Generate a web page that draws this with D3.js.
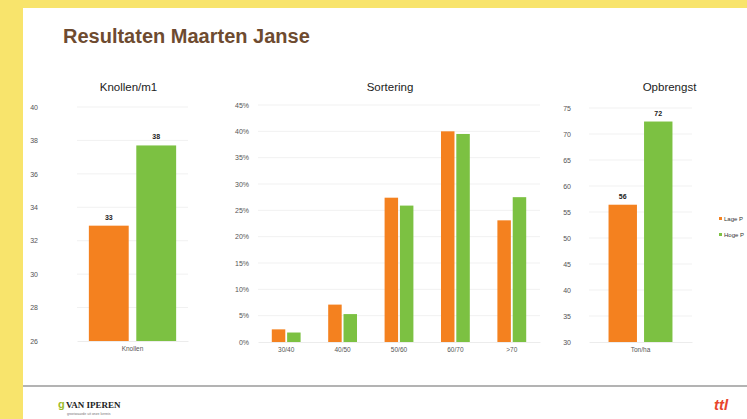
<!DOCTYPE html>
<html>
<head>
<meta charset="utf-8">
<script src="https://cdnjs.cloudflare.com/ajax/libs/d3/7.8.5/d3.min.js"></script>
<style>
  body { margin: 0; background: #fff; }
  svg { display: block; font-family: "Liberation Sans", Arial, sans-serif; }
</style>
</head>
<body>
<div id="chart"></div>
<script>
// series (legend is cut off at the slide edge in the source)
var seriesNames = ["Lage P", "Hoge P"];
var colors = ["#f4811f", "#7cc142"];

// Knollen/m1
var knolCats = ["Knollen"];
var knolLage = [32.9];
var knolHoge = [37.7];
var knolTicks = [26, 28, 30, 32, 34, 36, 38, 40];

// Sortering
var sortCats = ["30/40", "40/50", "50/60", "60/70", ">70"];
var sortLage = [0.024, 0.071, 0.274, 0.400, 0.231];
var sortHoge = [0.018, 0.053, 0.259, 0.395, 0.275];
var sortTicks = [0, 0.05, 0.10, 0.15, 0.20, 0.25, 0.30, 0.35, 0.40, 0.45];

// Opbrengst
var opbCats = ["Ton/ha"];
var opbLage = [56.4];
var opbHoge = [72.4];
var opbTicks = [30, 35, 40, 45, 50, 55, 60, 65, 70, 75];

var W = 747, H = 419;

var svg = d3.select("#chart").append("svg")
    .attr("width", W)
    .attr("height", H);

// yellow frame
svg.append("rect").attr("x", 0).attr("y", 0).attr("width", W).attr("height", H).attr("fill", "#f8e46c");
svg.append("rect").attr("x", 23).attr("y", 8).attr("width", W - 23).attr("height", H - 8).attr("fill", "#fff");

svg.append("text")
    .attr("x", 63).attr("y", 43)
    .attr("font-size", 20).attr("font-weight", "bold")
    .attr("fill", "#6e4b30")
    .text("Resultaten Maarten Janse");

function drawPanel(p){
    var g = svg.append("g");

    var y = d3.scaleLinear().domain(p.domain).range([p.bottom, p.top]);
    var x0 = d3.scaleBand().domain(p.cats).range([p.left, p.right]).paddingInner(0).paddingOuter(0);
    var x1 = d3.scaleBand().domain([0, 1]).range([0, x0.bandwidth()])
        .paddingInner(p.inner).paddingOuter(p.outer);

    // gridlines
    g.selectAll("line.grid")
        .data(p.ticks.slice(1))
        .enter().append("line")
        .attr("x1", p.left).attr("x2", p.right)
        .attr("y1", function(d){ return y(d); })
        .attr("y2", function(d){ return y(d); })
        .attr("stroke", "#f1f1f1").attr("stroke-width", 1);

    var yAxis = d3.axisLeft(y).tickValues(p.ticks).tickSize(0).tickFormat(p.tickFormat);
    var ya = g.append("g").attr("transform", "translate(" + p.axisX + ",0)").call(yAxis);
    ya.select(".domain").remove();
    ya.selectAll("text").attr("font-size", 7).attr("fill", "#555").attr("font-family", "Liberation Sans, Arial");

    var rows = p.cats.map(function(c, i){ return {cat: c, vals: [p.lage[i], p.hoge[i]]}; });

    var groups = g.selectAll("g.cat")
        .data(rows)
        .enter().append("g")
        .attr("transform", function(d){ return "translate(" + x0(d.cat) + ",0)"; });

    groups.selectAll("rect")
        .data(function(d){ return d.vals; })
        .enter().append("rect")
        .attr("x", function(d, i){ return x1(i); })
        .attr("width", x1.bandwidth())
        .attr("y", function(d){ return y(d); })
        .attr("height", function(d){ return p.bottom - y(d); })
        .attr("fill", function(d, i){ return colors[i]; });

    if (p.labels){
        groups.selectAll("text.val")
            .data(function(d){ return d.vals; })
            .enter().append("text")
            .attr("x", function(d, i){ return x1(i) + x1.bandwidth() / 2; })
            .attr("y", function(d){ return y(d) - 6; })
            .attr("text-anchor", "middle")
            .attr("font-size", 7).attr("font-weight", "bold").attr("fill", "#222")
            .text(function(d){ return d3.format(".0f")(d); });
    }

    var xAxis = d3.axisBottom(x0).tickSize(0);
    var xa = g.append("g").attr("transform", "translate(0," + p.bottom + ")").call(xAxis);
    xa.select(".domain").attr("stroke", "#ececec");
    xa.selectAll("text").attr("dy", "1em").attr("font-size", 6.5).attr("fill", "#555").attr("font-family", "Liberation Sans, Arial");

    g.append("text")
        .attr("x", (p.left + p.right) / 2 + (p.titleShift || 0)).attr("y", 91)
        .attr("text-anchor", "middle").attr("font-size", 11.5).attr("fill", "#222")
        .text(p.title);
}

drawPanel({
    title: "Knollen/m1", cats: knolCats, lage: knolLage, hoge: knolHoge,
    domain: [26, 40], ticks: knolTicks, tickFormat: d3.format("d"),
    left: 77, right: 188, top: 107, bottom: 341, axisX: 41,
    inner: 0.16, outer: 0.25, labels: true, titleShift: -4
});

drawPanel({
    title: "Sortering", cats: sortCats, lage: sortLage, hoge: sortHoge,
    domain: [0, 0.45], ticks: sortTicks, tickFormat: d3.format(".0%"),
    left: 258, right: 540, top: 105, bottom: 342, axisX: 252,
    inner: 0.12, outer: 0.9, labels: false, titleShift: -9
});

drawPanel({
    title: "Opbrengst", cats: opbCats, lage: opbLage, hoge: opbHoge,
    domain: [30, 75], ticks: opbTicks, tickFormat: d3.format("d"),
    left: 589, right: 692, top: 108, bottom: 342, axisX: 574,
    inner: 0.2, outer: 0.55, labels: true, titleShift: 29
});

// legend
var leg = svg.append("g").attr("transform", "translate(719,221)");
seriesNames.forEach(function(name, i){
    leg.append("rect").attr("x", 0).attr("y", i * 16 - 4).attr("width", 3).attr("height", 3).attr("fill", colors[i]);
    leg.append("text").attr("x", 5).attr("y", i * 16).attr("font-size", 6).attr("fill", "#333").text(name);
});

// footer
svg.append("line").attr("x1", 23).attr("x2", W).attr("y1", 386).attr("y2", 386)
    .attr("stroke", "#9a9a9a").attr("stroke-width", 1.5);
svg.append("text").attr("x", 66).attr("y", 408).attr("font-size", 9).attr("font-weight", "bold")
    .attr("font-family", "Liberation Serif, serif").attr("fill", "#222").text("VAN IPEREN");
svg.append("text").attr("x", 58).attr("y", 408).attr("font-size", 11).attr("font-weight", "bold")
    .attr("fill", "#9bbb2a").text("g");
svg.append("text").attr("x", 67).attr("y", 415).attr("font-size", 3.5).attr("fill", "#777")
    .text("groeiwaarde uit onze kennis");
svg.append("text").attr("x", 714).attr("y", 410).attr("font-size", 15).attr("font-weight", "bold")
    .attr("font-style", "italic").attr("fill", "#e8452c").text("ttl");
</script>
</body>
</html>
